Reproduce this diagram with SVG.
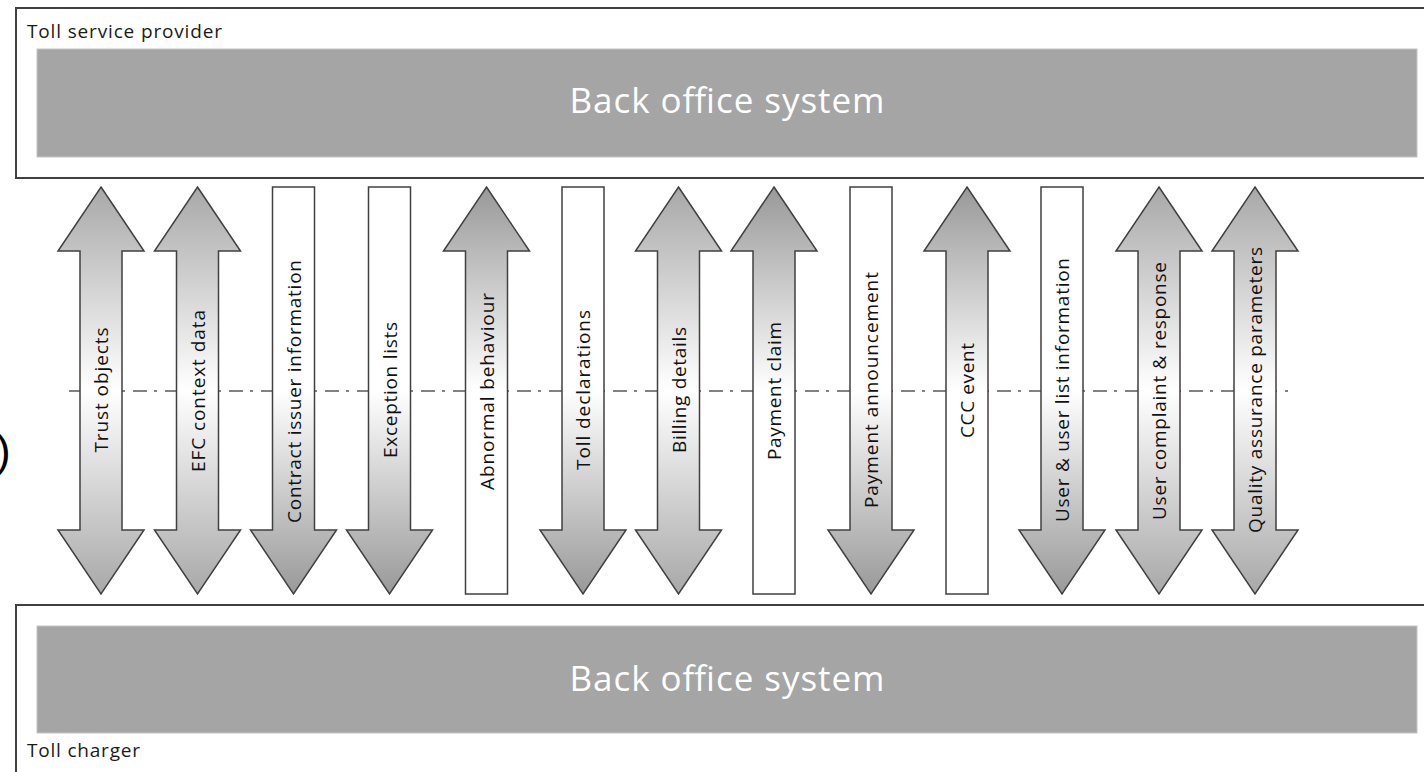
<svg xmlns="http://www.w3.org/2000/svg" width="1424" height="772" viewBox="0 0 1424 772">
<defs>
<style>
.cont{fill:#ffffff;stroke:#404040;stroke-width:2}
.bos{fill:#a5a5a5;stroke:#c4c4c4;stroke-width:1}
.bost{font-family:"Open Sans","Liberation Sans",sans-serif;font-size:35px;fill:#ffffff;text-anchor:middle}
.title{font-family:"Open Sans","Liberation Sans",sans-serif;font-size:19px;fill:#1a1a1a}
.lbl{font-family:"Open Sans","Liberation Sans",sans-serif;font-size:19px;fill:#111111;text-anchor:middle;dominant-baseline:central}
.arr{stroke:#404040;stroke-width:1.5;stroke-linejoin:miter}
.dbl{fill:url(#gDbl)}
.up{fill:url(#gUp)}
.down{fill:url(#gDown)}
.axis{stroke:#595959;stroke-width:1.5;stroke-dasharray:14 7 3 8;fill:none}
</style>
<linearGradient id="gDbl" x1="0" y1="0" x2="0" y2="1">
<stop offset="0" stop-color="#a8a8a8"/>
<stop offset="0.5" stop-color="#ffffff"/>
<stop offset="1" stop-color="#a8a8a8"/>
</linearGradient>
<linearGradient id="gUp" x1="0" y1="0" x2="0" y2="1">
<stop offset="0" stop-color="#999999"/>
<stop offset="0.5" stop-color="#ffffff"/>
<stop offset="1" stop-color="#ffffff"/>
</linearGradient>
<linearGradient id="gDown" x1="0" y1="0" x2="0" y2="1">
<stop offset="0" stop-color="#ffffff"/>
<stop offset="0.5" stop-color="#ffffff"/>
<stop offset="1" stop-color="#999999"/>
</linearGradient>
</defs>
<rect width="1424" height="772" fill="#ffffff"/>

<g id="toll-service-provider">
<rect class="cont" x="16" y="8" width="1420" height="170"/>
<text class="title" x="27" y="38" textLength="195" lengthAdjust="spacing">Toll service provider</text>
<rect class="bos" x="37" y="49" width="1380" height="108"/>
<text class="bost" x="727" y="113" textLength="315" lengthAdjust="spacing">Back office system</text>
</g>

<g id="toll-charger">
<rect class="cont" x="16" y="605" width="1420" height="180"/>
<rect class="bos" x="37" y="626" width="1380" height="107"/>
<text class="bost" x="727" y="691" textLength="315" lengthAdjust="spacing">Back office system</text>
<text class="title" x="27" y="757" textLength="113" lengthAdjust="spacing">Toll charger</text>
</g>

<g id="paren">
<text x="-4" y="466" font-family="Liberation Sans, sans-serif" font-size="44" fill="#000000">)</text>
</g>

<g id="connectors">
<line class="axis" x1="69" y1="391" x2="1288" y2="391"/>
</g>

<g id="a-trust" transform="translate(101,0)">
<path class="arr dbl" d="M0,187 L43,251 L21,251 L21,530 L43,530 L0,594 L-43,530 L-21,530 L-21,251 L-43,251 Z"/>
<text class="lbl" transform="translate(0,390) rotate(-90)" textLength="125" lengthAdjust="spacing">Trust objects</text>
</g>
<g id="a-efc" transform="translate(197.5,0)">
<path class="arr dbl" d="M0,187 L43,251 L21,251 L21,530 L43,530 L0,594 L-43,530 L-21,530 L-21,251 L-43,251 Z"/>
<text class="lbl" transform="translate(0,391) rotate(-90)" textLength="162" lengthAdjust="spacing">EFC context data</text>
</g>
<g id="a-contract" transform="translate(293.5,0)">
<path class="arr down" d="M-21,187 L21,187 L21,530 L43,530 L0,594 L-43,530 L-21,530 Z"/>
<text class="lbl" transform="translate(0,391.5) rotate(-90)" textLength="263" lengthAdjust="spacing">Contract issuer information</text>
</g>
<g id="a-exception" transform="translate(389.5,0)">
<path class="arr down" d="M-21,187 L21,187 L21,530 L43,530 L0,594 L-43,530 L-21,530 Z"/>
<text class="lbl" transform="translate(0,390) rotate(-90)" textLength="136" lengthAdjust="spacing">Exception lists</text>
</g>
<g id="a-abnormal" transform="translate(486.5,0)">
<path class="arr up" d="M0,187 L43,251 L21,251 L21,594 L-21,594 L-21,251 L-43,251 Z"/>
<text class="lbl" transform="translate(0,391.5) rotate(-90)" textLength="197" lengthAdjust="spacing">Abnormal behaviour</text>
</g>
<g id="a-toll-decl" transform="translate(583,0)">
<path class="arr down" d="M-21,187 L21,187 L21,530 L43,530 L0,594 L-43,530 L-21,530 Z"/>
<text class="lbl" transform="translate(0,390) rotate(-90)" textLength="160" lengthAdjust="spacing">Toll declarations</text>
</g>
<g id="a-billing" transform="translate(678.5,0)">
<path class="arr dbl" d="M0,187 L43,251 L21,251 L21,530 L43,530 L0,594 L-43,530 L-21,530 L-21,251 L-43,251 Z"/>
<text class="lbl" transform="translate(0,390) rotate(-90)" textLength="126" lengthAdjust="spacing">Billing details</text>
</g>
<g id="a-pay-claim" transform="translate(774,0)">
<path class="arr up" d="M0,187 L43,251 L21,251 L21,594 L-21,594 L-21,251 L-43,251 Z"/>
<text class="lbl" transform="translate(0,391) rotate(-90)" textLength="138" lengthAdjust="spacing">Payment claim</text>
</g>
<g id="a-pay-ann" transform="translate(871,0)">
<path class="arr down" d="M-21,187 L21,187 L21,530 L43,530 L0,594 L-43,530 L-21,530 Z"/>
<text class="lbl" transform="translate(0,390) rotate(-90)" textLength="236" lengthAdjust="spacing">Payment announcement</text>
</g>
<g id="a-ccc" transform="translate(967,0)">
<path class="arr up" d="M0,187 L43,251 L21,251 L21,594 L-21,594 L-21,251 L-43,251 Z"/>
<text class="lbl" transform="translate(0,390.5) rotate(-90)" textLength="95" lengthAdjust="spacing">CCC event</text>
</g>
<g id="a-user-list" transform="translate(1062,0)">
<path class="arr down" d="M-21,187 L21,187 L21,530 L43,530 L0,594 L-43,530 L-21,530 Z"/>
<text class="lbl" transform="translate(0,390) rotate(-90)" textLength="264" lengthAdjust="spacing">User &amp; user list information</text>
</g>
<g id="a-complaint" transform="translate(1159,0)">
<path class="arr dbl" d="M0,187 L43,251 L21,251 L21,530 L43,530 L0,594 L-43,530 L-21,530 L-21,251 L-43,251 Z"/>
<text class="lbl" transform="translate(0,391) rotate(-90)" textLength="258" lengthAdjust="spacing">User complaint &amp; response</text>
</g>
<g id="a-quality" transform="translate(1255,0)">
<path class="arr dbl" d="M0,187 L43,251 L21,251 L21,530 L43,530 L0,594 L-43,530 L-21,530 L-21,251 L-43,251 Z"/>
<text class="lbl" transform="translate(0,390) rotate(-90)" textLength="286" lengthAdjust="spacing">Quality assurance parameters</text>
</g>
</svg>
